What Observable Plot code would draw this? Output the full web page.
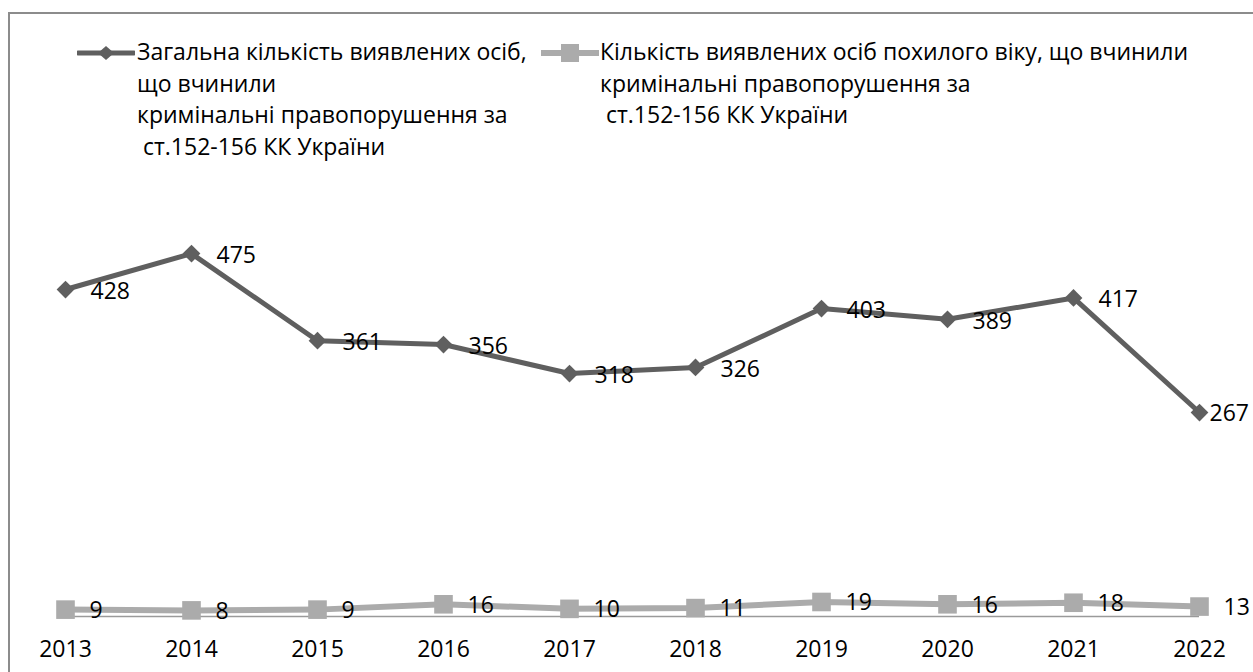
<!DOCTYPE html>
<html><head><meta charset="utf-8">
<script src="https://cdn.jsdelivr.net/npm/d3@7"></script>
<script src="https://cdn.jsdelivr.net/npm/@observablehq/plot@0.6"></script>
<style>
html,body{margin:0;background:#fff;font-family:"Open Sans",sans-serif;color:#000;overflow:hidden;}
#wrap{position:relative;width:1253px;height:672px;overflow:hidden;}
#frame{position:absolute;left:8px;top:12px;width:1300px;height:700px;border:2px solid #8c8c8c;box-sizing:border-box;pointer-events:none;}
#legend{position:relative;height:170px;}
.item{position:absolute;top:37px;}
.item svg{position:absolute;left:0;top:6px;}
.item .txt{position:absolute;white-space:pre;font-size:23px;line-height:31.5px;top:-1px;}
#chart{position:relative;height:502px;}
#chart svg{display:block;}
</style></head>
<body>
<div id="wrap">
  <div id="frame"></div>
  <div id="legend"></div>
  <div id="chart"></div>
</div>
<script>
const years = ["2013","2014","2015","2016","2017","2018","2019","2020","2021","2022"];
const totalValues = [428,475,361,356,318,326,403,389,417,267];
const elderlyValues = [9,8,9,16,10,11,19,16,18,13];
const seriesNames = [
  ["Загальна кількість виявлених осіб,", "що вчинили", "кримінальні правопорушення за", " ст.152-156 КК України"],
  ["Кількість виявлених осіб похилого віку, що вчинили", "кримінальні правопорушення за", " ст.152-156 КК України"]
];
const colors = ["#5f5f5f", "#ababab"];

const total = years.map((y, i) => ({year: y, v: totalValues[i]}));
const elderly = years.map((y, i) => ({year: y, v: elderlyValues[i]}));
const n = years.length;

// Legend
const legend = document.getElementById("legend");
const legendItems = [
  {left: 77, textLeft: 60, marker: "diamond"},
  {left: 541, textLeft: 59, marker: "square"}
];
legendItems.forEach((it, k) => {
  const div = document.createElement("div");
  div.className = "item";
  div.style.left = it.left + "px";
  const mk = it.marker === "diamond"
    ? `<path d="M29 3 L37 10 L29 17 L21 10 Z" fill="${colors[k]}"/>`
    : `<rect x="20" y="1" width="18" height="18" fill="${colors[k]}"/>`;
  div.innerHTML = `<svg width="58" height="20"><line x1="1" x2="57" y1="10" y2="10" stroke="${colors[k]}" stroke-width="${k===0?5:6}" stroke-linecap="round"/>${mk}</svg>` +
    `<div class="txt" style="left:${it.textLeft}px">${seriesNames[k].join("\n")}</div>`;
  legend.appendChild(div);
});

const font = "Open Sans";
const fs = 23;
const chart = Plot.plot({
  width: 1253,
  height: 502,
  marginLeft: 65,
  marginRight: 54,
  marginTop: 64,
  marginBottom: 56,
  style: {fontFamily: font, background: "transparent", overflow: "visible"},
  x: {type: "point", domain: years, padding: 0, label: null},
  y: {domain: [0, 500], axis: null},
  marks: [
    Plot.axisX({tickSize: 0, tickPadding: 24, fontSize: fs, color: "#000", label: null}),
    Plot.ruleY([0], {x1: () => years[0], x2: () => years[n - 1], stroke: "#9a9a9a", strokeWidth: 1.5}),
    Plot.line(elderly, {x: "year", y: "v", stroke: colors[1], strokeWidth: 6}),
    Plot.dot(elderly, {x: "year", y: "v", symbol: "square", r: 10.5, fill: colors[1]}),
    Plot.line(total, {x: "year", y: "v", stroke: colors[0], strokeWidth: 5}),
    Plot.dot(total, {x: "year", y: "v", symbol: "diamond2", r: 8, fill: colors[0]}),
    Plot.text(total, {filter: (d, i) => i < n - 1, x: "year", y: "v", text: d => String(d.v), dx: 25, dy: 2, textAnchor: "start", fontSize: fs, fill: "#000"}),
    Plot.text(total, {filter: (d, i) => i === n - 1, x: "year", y: "v", text: d => String(d.v), dx: 10, dy: 1, textAnchor: "start", fontSize: fs, fill: "#000"}),
    Plot.text(elderly, {x: "year", y: "v", text: d => String(d.v), dx: 24, dy: 1, textAnchor: "start", fontSize: fs, fill: "#000"})
  ]
});
document.getElementById("chart").appendChild(chart);
</script>
</body></html>
